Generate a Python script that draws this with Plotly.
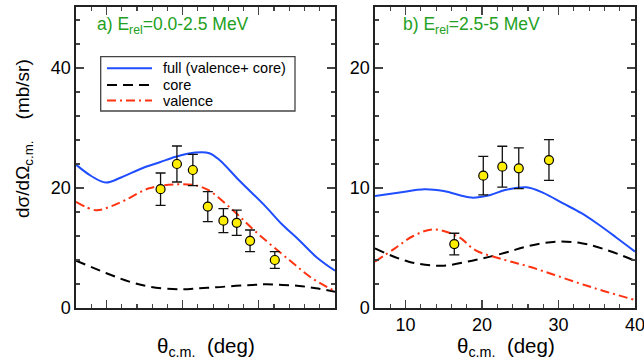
import plotly.graph_objects as go

# ---------------- data ----------------
# panel a) E_rel = 0.0-2.5 MeV
full_a_x = [6, 8, 9.9, 12, 14.7, 17, 19.1, 21.7, 23.5, 24.8, 27.4, 30.9, 33, 35.3, 37.5, 40]
full_a_y = [23.9, 22.0, 20.9, 21.8, 23.3, 24.3, 25.2, 25.9, 25.8, 24.7, 21.3, 16.9, 14.0, 11.3, 8.55, 6.2]
valence_a_x = [6, 8.6, 10.5, 12.5, 15.6, 19.1, 21.5, 22.6, 23.7, 26.6, 29.6, 34, 37, 40]
valence_a_y = [17.7, 16.3, 16.9, 18.0, 19.95, 20.6, 20.5, 20.1, 19.4, 16.3, 12.7, 8.0, 4.95, 2.8]
core_a_x = [6, 10, 13, 15.7, 19.6, 22.2, 24.4, 27, 29.2, 31, 33.1, 35.3, 37.5, 40]
core_a_y = [7.9, 5.8, 4.4, 3.55, 3.1, 3.3, 3.45, 3.7, 3.85, 3.95, 3.85, 3.67, 3.3, 2.7]
exp_a_x = [17.1, 19.25, 21.34, 23.3, 25.35, 27.1, 28.85, 32.1]
exp_a_y = [19.8, 24.0, 23.0, 16.9, 14.55, 14.2, 11.2, 8.0]
exp_a_err = [2.7, 3.0, 2.6, 2.5, 2.0, 2.1, 1.8, 1.4]

# panel b) E_rel = 2.5-5 MeV
full_b_x = [6, 9, 12.5, 15, 18.6, 21, 23, 25.8, 28, 30.6, 33, 35, 37.5, 40]
full_b_y = [9.33, 9.6, 9.9, 9.75, 9.2, 9.4, 9.83, 10.06, 9.6, 8.72, 7.9, 7.06, 5.9, 4.7]
valence_b_x = [6, 8.6, 11, 13.6, 16.9, 19.1, 23, 26.2, 29.5, 32.7, 36, 40]
valence_b_y = [3.86, 4.97, 6.0, 6.55, 5.94, 4.83, 4.0, 3.44, 2.75, 2.06, 1.4, 0.67]
core_b_x = [6, 10.4, 14.7, 19.1, 23, 26, 29.7, 33, 36, 40]
core_b_y = [4.97, 3.86, 3.53, 4.0, 4.6, 5.15, 5.53, 5.4, 4.9, 3.94]
exp_b_x = [16.37, 20.16, 22.65, 24.8, 28.75]
exp_b_y = [5.33, 11.03, 11.78, 11.64, 12.33]
exp_b_err = [0.9, 1.6, 1.7, 1.7, 1.7]

legend_names = ["full (valence+ core)", "core", "valence"]
panel_labels = ["a) E<sub>rel</sub>=0.0-2.5 MeV", "b) E<sub>rel</sub>=2.5-5 MeV"]

# ---------------- styles ----------------
BLUE = "#1f4dff"
RED = "#ff3311"
BLACK = "#000000"
GREEN = "#22a022"
FONT = "Liberation Sans, Arial, sans-serif"
W, H = 644, 363

def px(x):  # page pixel x -> paper fraction
    return x / W

def py(y):  # page pixel y -> paper fraction
    return 1 - y / H

DASH_CORE = "10px,6px"
DASH_VAL = "9px,4px,2px,4px"
styles = [dict(color=BLUE, width=2, dash="solid"),
          dict(color=BLACK, width=2, dash=DASH_CORE),
          dict(color=RED, width=2, dash=DASH_VAL)]

fig = go.Figure()

def add_panel(xa, ya, fx, fy, cx, cy, vx, vy, ex, ey, ee):
    for (lx, ly), st, nm in zip([(fx, fy), (cx, cy), (vx, vy)], styles, legend_names):
        fig.add_trace(go.Scatter(x=lx, y=ly, mode="lines", line=dict(shape="spline", **st),
                                 name=nm, showlegend=False, xaxis=xa, yaxis=ya))
    fig.add_trace(go.Scatter(x=ex, y=ey, mode="markers",
                             marker=dict(color="#ffee00", size=9, line=dict(color="#000", width=1.2)),
                             error_y=dict(type="data", array=ee, color="#111", thickness=1.3, width=5),
                             showlegend=False, xaxis=xa, yaxis=ya))

add_panel("x", "y", full_a_x, full_a_y, core_a_x, core_a_y, valence_a_x, valence_a_y,
          exp_a_x, exp_a_y, exp_a_err)
add_panel("x2", "y2", full_b_x, full_b_y, core_b_x, core_b_y, valence_b_x, valence_b_y,
          exp_b_x, exp_b_y, exp_b_err)

axis_common = dict(showline=True, linecolor="#222", linewidth=1.6, mirror="ticks",
                   ticks="inside", ticklen=8, tickwidth=1.3, tickcolor="#444",
                   showgrid=False, zeroline=False, automargin=False, ticklabeloverflow="allow",
                   tickfont=dict(family=FONT, size=18, color="#000"))
minor_common = dict(ticklen=4, ticks="inside", tickcolor="#444", tickwidth=1.2)

yb, yt = py(308), py(7)

fig.update_layout(
    width=W, height=H, margin=dict(l=0, r=0, t=0, b=0),
    paper_bgcolor="white", plot_bgcolor="white",
    font=dict(family=FONT, color="#000"),
    showlegend=False, hovermode=False,
    xaxis=dict(domain=[px(76), px(335)], range=[6, 40], tick0=0, dtick=10, showticklabels=False,
               minor=dict(dtick=2, **minor_common), anchor="y", **axis_common),
    yaxis=dict(domain=[yb, yt], range=[0, 301 / 6], tick0=0, dtick=20,
               minor=dict(dtick=4, **minor_common), anchor="x", **axis_common),
    xaxis2=dict(domain=[px(375), px(635)], range=[6, 40], tick0=0, dtick=10,
                minor=dict(dtick=2, **minor_common), anchor="y2", **axis_common),
    yaxis2=dict(domain=[yb, yt], range=[0, 301 / 12], tick0=0, dtick=10,
                minor=dict(dtick=2, **minor_common), anchor="x2", **axis_common),
)

# ---- legend box (drawn manually to match compact spacing) ----
fig.add_shape(type="rect", xref="paper", yref="paper", x0=px(100.7), x1=px(295), y0=py(111), y1=py(56.7),
              line=dict(color="#444", width=1.3), fillcolor="white", layer="above")
for i, (st, nm) in enumerate(zip(styles, legend_names)):
    yy = [68.3, 85, 100.5][i]
    fig.add_shape(type="line", xref="paper", yref="paper", x0=px(107), x1=px(152), y0=py(yy), y1=py(yy),
                  line=dict(color=st["color"], width=2, dash=st["dash"]), layer="above")
    fig.add_annotation(x=px(161), y=py(yy), xref="paper", yref="paper", xanchor="left", yanchor="middle",
                       text=nm, showarrow=False, font=dict(family=FONT, size=14.5, color="#000"))

fig.add_annotation(x=px(95), y=py(25), xref="paper", yref="paper", xanchor="left", yanchor="middle",
                   text=panel_labels[0], showarrow=False, font=dict(family=FONT, size=17.5, color=GREEN))
fig.add_annotation(x=px(401), y=py(25), xref="paper", yref="paper", xanchor="left", yanchor="middle",
                   text=panel_labels[1], showarrow=False, font=dict(family=FONT, size=17.5, color=GREEN))

fig.add_annotation(x=px(24), y=py(139), xref="paper", yref="paper", xanchor="center", yanchor="middle",
                   textangle=-90, text="dσ/dΩ<sub>c.m.</sub>    (mb/sr)", showarrow=False,
                   font=dict(family=FONT, size=19, color="#000"))
fig.add_annotation(x=px(206), y=py(347), xref="paper", yref="paper", xanchor="center", yanchor="middle",
                   text="θ<sub>c.m.</sub>  (deg)", showarrow=False, font=dict(family=FONT, size=20.5, color="#000"))
fig.add_annotation(x=px(506), y=py(347), xref="paper", yref="paper", xanchor="center", yanchor="middle",
                   text="θ<sub>c.m.</sub>  (deg)", showarrow=False, font=dict(family=FONT, size=20.5, color="#000"))

# remove the default page margin so the figure sits at the window origin
fix_js = ("document.documentElement.style.margin='0';document.documentElement.style.overflow='hidden';"
          "document.body.style.margin='0';document.body.style.padding='0';document.body.style.overflow='hidden';")
fig.write_html("out.html", post_script=fix_js, config={"displayModeBar": False, "staticPlot": True})
